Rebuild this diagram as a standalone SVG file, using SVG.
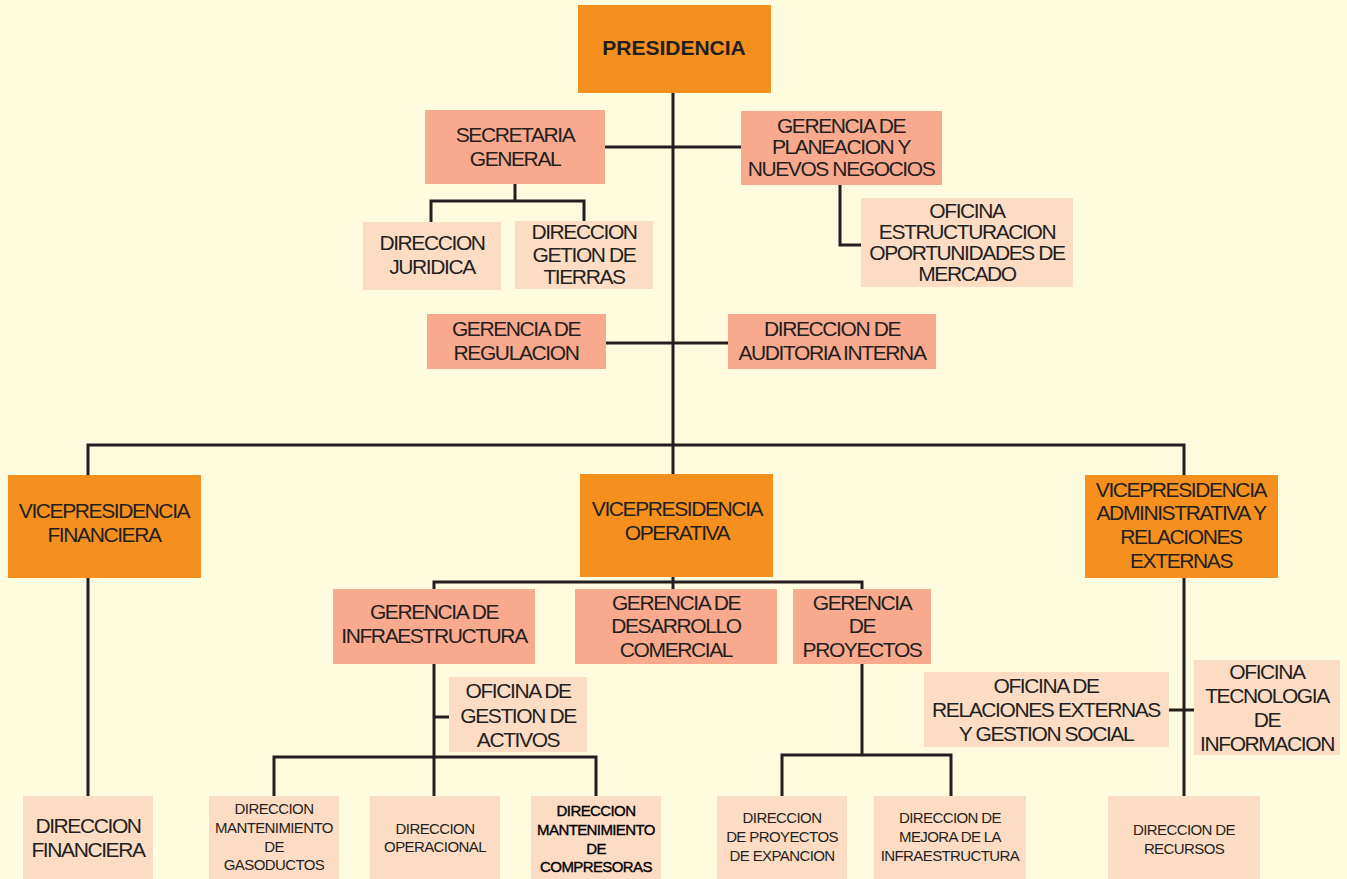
<svg xmlns="http://www.w3.org/2000/svg" width="1347" height="879" viewBox="0 0 1347 879">
<style>
.o{fill:#F58F1E}
.s{fill:#F9A98D}
.p{fill:#FDDCC4}
text{font-family:"Liberation Sans",Arial,sans-serif;fill:#231F20;text-anchor:middle;dominant-baseline:central}
.t{font-size:21px;letter-spacing:-1.4px}
.m{font-size:15px;letter-spacing:-0.6px}
.b{font-weight:bold}
.k{fill:#000;stroke:#000;stroke-width:0.35}
.c line,.c path{stroke:#231F20;stroke-width:3;fill:none}
</style>
<rect width="1347" height="879" fill="#FFFBDF"/>
<g class="c" id="connectors">
<line x1="673" y1="93" x2="673" y2="474"/>
<line x1="605" y1="147" x2="741" y2="147"/>
<line x1="606" y1="343" x2="728" y2="343"/>
<path d="M88,475 V445 H1184 V475"/>
<path d="M515,184 V201"/>
<path d="M431,222 V201 H584 V221"/>
<path d="M840,185 V245 H861"/>
<path d="M88,578 V796"/>
<path d="M673,577 V589"/>
<path d="M434,589 V582 H862 V589"/>
<path d="M434,664 V796"/>
<path d="M434,717 H449"/>
<path d="M274,796 V757 H596 V796"/>
<path d="M862,664 V755"/>
<path d="M782,796 V755 H951 V796"/>
<path d="M1184,578 V796"/>
<path d="M1169,710 H1194"/>
</g>
<g id="presidencia"><rect class="o" x="578" y="5" width="193" height="88"/><text class="t b" x="674" y="47" style="letter-spacing:0">PRESIDENCIA</text></g>
<g id="secretaria"><rect class="s" x="425" y="110" width="180" height="74"/><text class="t" x="515" y="134">SECRETARIA</text><text class="t" x="515" y="158">GENERAL</text></g>
<g id="planeacion"><rect class="s" x="741" y="111" width="201" height="74"/><text class="t" x="841" y="125">GERENCIA DE</text><text class="t" x="841" y="146">PLANEACION Y</text><text class="t" x="841" y="168">NUEVOS NEGOCIOS</text></g>
<g id="juridica"><rect class="p" x="363" y="222" width="138" height="68"/><text class="t" x="432" y="242">DIRECCION</text><text class="t" x="432" y="266">JURIDICA</text></g>
<g id="tierras"><rect class="p" x="515" y="221" width="138" height="68"/><text class="t" x="584" y="231">DIRECCION</text><text class="t" x="584" y="254">GETION DE</text><text class="t" x="584" y="276">TIERRAS</text></g>
<g id="estructuracion"><rect class="p" x="861" y="198" width="212" height="89"/><text class="t" x="967" y="210">OFICINA</text><text class="t" x="967" y="231">ESTRUCTURACION</text><text class="t" x="967" y="252">OPORTUNIDADES DE</text><text class="t" x="967" y="273">MERCADO</text></g>
<g id="regulacion"><rect class="s" x="427" y="314" width="179" height="55"/><text class="t" x="516" y="328">GERENCIA DE</text><text class="t" x="516" y="352">REGULACION</text></g>
<g id="auditoria"><rect class="s" x="728" y="314" width="208" height="55"/><text class="t" x="832" y="328">DIRECCION DE</text><text class="t" x="832" y="352">AUDITORIA INTERNA</text></g>
<g id="vp-financiera"><rect class="o" x="8" y="475" width="193" height="103"/><text class="t" x="104" y="510">VICEPRESIDENCIA</text><text class="t" x="104" y="534">FINANCIERA</text></g>
<g id="vp-operativa"><rect class="o" x="580" y="474" width="193" height="103"/><text class="t" x="677" y="508">VICEPRESIDENCIA</text><text class="t" x="677" y="532">OPERATIVA</text></g>
<g id="vp-administrativa"><rect class="o" x="1085" y="475" width="193" height="103"/><text class="t" x="1181" y="489">VICEPRESIDENCIA</text><text class="t" x="1181" y="512">ADMINISTRATIVA Y</text><text class="t" x="1181" y="536">RELACIONES</text><text class="t" x="1181" y="560">EXTERNAS</text></g>
<g id="ger-infraestructura"><rect class="s" x="333" y="589" width="202" height="75"/><text class="t" x="434" y="611">GERENCIA DE</text><text class="t" x="434" y="635">INFRAESTRUCTURA</text></g>
<g id="ger-desarrollo"><rect class="s" x="575" y="589" width="202" height="75"/><text class="t" x="676" y="602">GERENCIA DE</text><text class="t" x="676" y="625">DESARROLLO</text><text class="t" x="676" y="649">COMERCIAL</text></g>
<g id="ger-proyectos"><rect class="s" x="793" y="589" width="138" height="75"/><text class="t" x="862" y="602">GERENCIA</text><text class="t" x="862" y="625">DE</text><text class="t" x="862" y="649">PROYECTOS</text></g>
<g id="gestion-activos"><rect class="p" x="449" y="677" width="138" height="75"/><text class="t" x="518" y="690">OFICINA DE</text><text class="t" x="518" y="715">GESTION DE</text><text class="t" x="518" y="739">ACTIVOS</text></g>
<g id="relaciones-externas"><rect class="p" x="924" y="672" width="245" height="75"/><text class="t" x="1046" y="685">OFICINA DE</text><text class="t" x="1046" y="709">RELACIONES EXTERNAS</text><text class="t" x="1046" y="733">Y GESTION SOCIAL</text></g>
<g id="tecnologia"><rect class="p" x="1194" y="660" width="146" height="95"/><text class="t" x="1267" y="671">OFICINA</text><text class="t" x="1267" y="695">TECNOLOGIA</text><text class="t" x="1267" y="719">DE</text><text class="t" x="1267" y="743">INFORMACION</text></g>
<g id="dir-financiera"><rect class="p" x="23" y="796" width="130" height="84"/><text class="t" x="88" y="825">DIRECCION</text><text class="t" x="88" y="849">FINANCIERA</text></g>
<g id="dir-gasoductos"><rect class="p" x="209" y="796" width="130" height="84"/><text class="m" x="274" y="808">DIRECCION</text><text class="m" x="274" y="827">MANTENIMIENTO</text><text class="m" x="274" y="846">DE</text><text class="m" x="274" y="864">GASODUCTOS</text></g>
<g id="dir-operacional"><rect class="p" x="370" y="796" width="130" height="84"/><text class="m" x="435" y="828">DIRECCION</text><text class="m" x="435" y="846">OPERACIONAL</text></g>
<g id="dir-compresoras"><rect class="p" x="531" y="796" width="130" height="84"/><text class="m k" x="596" y="810">DIRECCION</text><text class="m k" x="596" y="829">MANTENIMIENTO</text><text class="m k" x="596" y="848">DE</text><text class="m k" x="596" y="866">COMPRESORAS</text></g>
<g id="dir-expancion"><rect class="p" x="717" y="796" width="130" height="84"/><text class="m" x="782" y="817">DIRECCION</text><text class="m" x="782" y="836">DE PROYECTOS</text><text class="m" x="782" y="855">DE EXPANCION</text></g>
<g id="dir-mejora"><rect class="p" x="874" y="796" width="152" height="84"/><text class="m" x="950" y="817">DIRECCION DE</text><text class="m" x="950" y="836">MEJORA DE LA</text><text class="m" x="950" y="855">INFRAESTRUCTURA</text></g>
<g id="dir-recursos"><rect class="p" x="1108" y="796" width="152" height="84"/><text class="m" x="1184" y="829">DIRECCION DE</text><text class="m" x="1184" y="848">RECURSOS</text></g>
</svg>
